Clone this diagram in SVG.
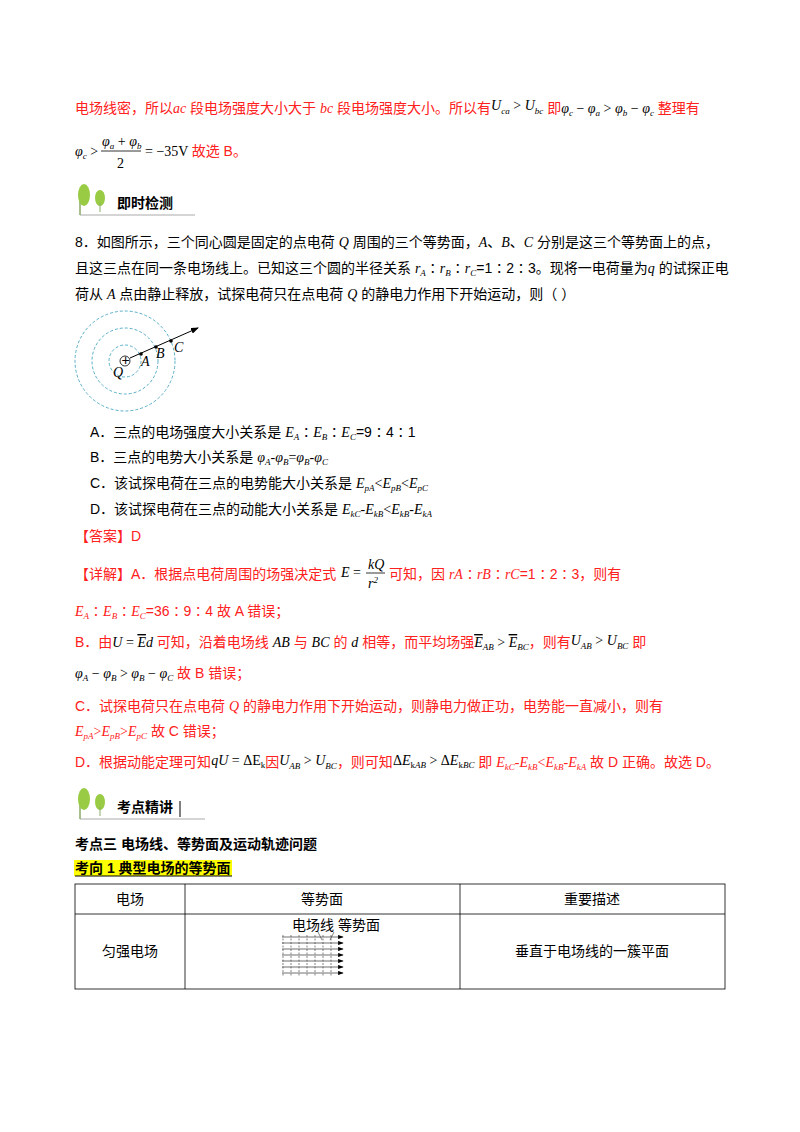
<svg xmlns="http://www.w3.org/2000/svg" width="800" height="1132" viewBox="0 0 800 1132">
<style>
text{font-family:"Liberation Sans","Noto Sans CJK SC",sans-serif;font-size:14px;fill:#000}
.r{fill:#ff2020}
.k{fill:#000}
.m{font-family:"Liberation Serif","Noto Sans CJK SC",serif;font-style:italic}
.n{font-style:normal}
.mn{font-family:"Liberation Serif",serif}
.s{font-size:9px}
.h{font-weight:bold;font-size:14px}
.ov{text-decoration:overline}
.c{fill:none;stroke:#5ab0c8;stroke-width:1;stroke-dasharray:3 2}
</style>
<defs>
<marker id="ar" markerWidth="8" markerHeight="6" refX="7" refY="3" orient="auto"><path d="M0,0L8,3L0,6z" fill="#000"/></marker>
</defs>
<rect width="800" height="1132" fill="#fff"/>
<text x="75" y="113" class="r">电场线密，所以<tspan class="m">ac</tspan> 段电场强度大小大于 <tspan class="m">bc</tspan> 段电场强度大小。所以有<tspan class="m k" dy="-3">U<tspan class="s" dy="4">ca</tspan><tspan dy="-4" class="n"> &gt; </tspan>U<tspan class="s" dy="4">bc</tspan></tspan><tspan dy="-1"> 即</tspan><tspan class="m k">φ<tspan class="s" dy="3">c</tspan><tspan dy="-3" class="n"> − </tspan>φ<tspan class="s" dy="3">a</tspan><tspan dy="-3" class="n"> &gt; </tspan>φ<tspan class="s" dy="3">b</tspan><tspan dy="-3" class="n"> − </tspan>φ<tspan class="s" dy="3">c</tspan></tspan><tspan dy="-3"> 整理有</tspan></text>
<text x="75" y="156" class="m">φ<tspan class="s" dy="3">c</tspan><tspan dy="-3" class="n"> &gt;</tspan></text>
<text x="102" y="146" class="m">φ<tspan class="s" dy="3">a</tspan><tspan dy="-3" class="n"> + </tspan>φ<tspan class="s" dy="3">b</tspan></text>
<line x1="101" y1="151" x2="141" y2="151" stroke="#000" stroke-width="0.8"/>
<text x="117" y="168" class="mn">2</text>
<text x="145" y="156" class="mn">= −35V <tspan class="r" font-family="Liberation Sans,Noto Sans CJK SC,sans-serif">故选 B。</tspan></text>
<g id="hdr1">
<path d="M80,215 L195,215" stroke="#aaa" stroke-width="1"/>
<path d="M80,198 L80,215" stroke="#8a6" stroke-width="1.5"/>
<ellipse cx="84" cy="195" rx="6" ry="11" fill="#9c4"/>
<ellipse cx="100" cy="198" rx="5" ry="8" fill="#9c4"/>
<line x1="100" y1="203" x2="100" y2="212" stroke="#8a6"/>
<text x="117" y="208" font-weight="bold" font-size="14">即时检测</text>
</g>
<text x="75" y="247">8．如图所示，三个同心圆是固定的点电荷 <tspan class="m">Q</tspan> 周围的三个等势面，<tspan class="m">A</tspan>、<tspan class="m">B</tspan>、<tspan class="m">C</tspan> 分别是这三个等势面上的点，</text>
<text x="75" y="273">且这三点在同一条电场线上。已知这三个圆的半径关系 <tspan class="m">r<tspan class="s" dy="3">A</tspan><tspan dy="-3" class="n">∶</tspan>r<tspan class="s" dy="3">B</tspan><tspan dy="-3" class="n">∶</tspan>r<tspan class="s" dy="3">C</tspan></tspan><tspan dy="-3">=1∶2∶3。现将一电荷量为</tspan><tspan class="m">q</tspan> 的试探正电</text>
<text x="75" y="299">荷从 <tspan class="m">A</tspan> 点由静止释放，试探电荷只在点电荷 <tspan class="m">Q</tspan> 的静电力作用下开始运动，则（        ）</text>
<g id="fig">
<circle cx="125" cy="361" r="16" class="c"/>
<circle cx="125" cy="361" r="33" class="c"/>
<circle cx="125" cy="361" r="50" class="c"/>
<circle cx="125" cy="361" r="5" fill="#fff" stroke="#000" stroke-width="0.8"/>
<text x="121.5" y="364.5" font-size="9">+</text>
<line x1="130" y1="358" x2="198" y2="328" stroke="#000" marker-end="url(#ar)"/>
<circle cx="141" cy="354" r="1.8"/><circle cx="156" cy="347" r="1.8"/><circle cx="171" cy="341" r="1.8"/>
<text x="113" y="377" class="m">Q</text>
<text x="141" y="366" class="m">A</text>
<text x="156" y="358" class="m">B</text>
<text x="174" y="352" class="m">C</text>
</g>
<text x="90" y="437">A．三点的电场强度大小关系是 <tspan class="m">E<tspan class="s" dy="3">A</tspan><tspan dy="-3" class="n">∶</tspan>E<tspan class="s" dy="3">B</tspan><tspan dy="-3" class="n">∶</tspan>E<tspan class="s" dy="3">C</tspan></tspan><tspan dy="-3">=9∶4∶1</tspan></text>
<text x="90" y="462">B．三点的电势大小关系是 <tspan class="m">φ<tspan class="s" dy="3">A</tspan><tspan dy="-3">-φ</tspan><tspan class="s" dy="3">B</tspan><tspan dy="-3" class="n">=</tspan>φ<tspan class="s" dy="3">B</tspan><tspan dy="-3">-φ</tspan><tspan class="s" dy="3">C</tspan></tspan></text>
<text x="90" y="488">C．该试探电荷在三点的电势能大小关系是 <tspan class="m">E<tspan class="s" dy="3">pA</tspan><tspan dy="-3" class="n">&lt;</tspan>E<tspan class="s" dy="3">pB</tspan><tspan dy="-3" class="n">&lt;</tspan>E<tspan class="s" dy="3">pC</tspan></tspan></text>
<text x="90" y="514">D．该试探电荷在三点的动能大小关系是 <tspan class="m">E<tspan class="s" dy="3">kC</tspan><tspan dy="-3">-E</tspan><tspan class="s" dy="3">kB</tspan><tspan dy="-3" class="n">&lt;</tspan>E<tspan class="s" dy="3">kB</tspan><tspan dy="-3">-E</tspan><tspan class="s" dy="3">kA</tspan></tspan></text>
<text x="75" y="541" class="r">【答案】D</text>
<text x="75" y="579" class="r">【详解】A．根据点电荷周围的场强决定式</text>
<text x="341" y="577" class="m">E<tspan class="n"> =</tspan></text>
<text x="368" y="569" class="m" font-size="12">kQ</text>
<line x1="366" y1="573" x2="385" y2="573" stroke="#000" stroke-width="0.8"/>
<text x="368" y="588" class="m" font-size="12">r<tspan class="s" dy="-5">2</tspan></text>
<text x="389" y="579" class="r">可知，因 <tspan class="m">rA</tspan>∶<tspan class="m">rB</tspan>∶<tspan class="m">rC</tspan>=1∶2∶3，则有</text>
<text x="75" y="616" class="r"><tspan class="m">E<tspan class="s" dy="3">A</tspan><tspan dy="-3" class="n">∶</tspan>E<tspan class="s" dy="3">B</tspan><tspan dy="-3" class="n">∶</tspan>E<tspan class="s" dy="3">C</tspan></tspan><tspan dy="-3">=36∶9∶4 故 A 错误；</tspan></text>
<text x="75" y="647" class="r">B．由<tspan class="m k">U<tspan class="n"> = </tspan><tspan class="ov">E</tspan>d</tspan> 可知，沿着电场线 <tspan class="m k">AB</tspan>  与 <tspan class="m k">BC</tspan> 的 <tspan class="m k">d</tspan> 相等，而平均场强<tspan class="m k"><tspan class="ov">E</tspan><tspan class="s" dy="3">AB</tspan><tspan dy="-3" class="n"> &gt; </tspan><tspan class="ov">E</tspan><tspan class="s" dy="3">BC</tspan></tspan><tspan dy="-3">，则有</tspan><tspan class="m k" dy="-2">U<tspan class="s" dy="4">AB</tspan><tspan dy="-4" class="n"> &gt; </tspan>U<tspan class="s" dy="4">BC</tspan></tspan><tspan dy="-2"> 即</tspan></text>
<text x="75" y="678" class="r"><tspan class="m k">φ<tspan class="s" dy="3">A</tspan><tspan dy="-3" class="n"> − </tspan>φ<tspan class="s" dy="3">B</tspan><tspan dy="-3" class="n"> &gt; </tspan>φ<tspan class="s" dy="3">B</tspan><tspan dy="-3" class="n"> − </tspan>φ<tspan class="s" dy="3">C</tspan></tspan><tspan dy="-3"> 故 B 错误；</tspan></text>
<text x="75" y="711" class="r">C．试探电荷只在点电荷 <tspan class="m">Q</tspan> 的静电力作用下开始运动，则静电力做正功，电势能一直减小，则有</text>
<text x="75" y="736" class="r"><tspan class="m">E<tspan class="s" dy="3">pA</tspan><tspan dy="-3" class="n">&gt;</tspan>E<tspan class="s" dy="3">pB</tspan><tspan dy="-3" class="n">&gt;</tspan>E<tspan class="s" dy="3">pC</tspan></tspan><tspan dy="-3"> 故 C 错误；</tspan></text>
<text x="75" y="767" class="r">D．根据动能定理可知<tspan class="m k" dy="-2">qU<tspan class="n"> = ΔE</tspan><tspan class="s n" dy="3">k</tspan></tspan><tspan dy="-1">因</tspan><tspan class="m k" dy="-2">U<tspan class="s" dy="4">AB</tspan><tspan dy="-4" class="n"> &gt; </tspan>U<tspan class="s" dy="4">BC</tspan></tspan><tspan dy="-2">，则可知</tspan><tspan class="m k" dy="-2"><tspan class="n">Δ</tspan>E<tspan class="s" dy="3"><tspan class="n">k</tspan>AB</tspan><tspan class="n" dy="-3"> &gt; Δ</tspan>E<tspan class="s" dy="3"><tspan class="n">k</tspan>BC</tspan></tspan><tspan dy="-1"> 即 </tspan><tspan class="m">E<tspan class="s" dy="3">kC</tspan><tspan dy="-3">-E</tspan><tspan class="s" dy="3">kB</tspan><tspan dy="-3" class="n">&lt;</tspan>E<tspan class="s" dy="3">kB</tspan><tspan dy="-3">-E</tspan><tspan class="s" dy="3">kA</tspan></tspan><tspan dy="-3"> 故 D 正确。故选 D。</tspan></text>
<g id="hdr2">
<path d="M80,819 L205,819" stroke="#aaa" stroke-width="1"/>
<path d="M80,802 L80,819" stroke="#8a6" stroke-width="1.5"/>
<ellipse cx="84" cy="799" rx="6" ry="11" fill="#9c4"/>
<ellipse cx="100" cy="802" rx="5" ry="8" fill="#9c4"/>
<line x1="100" y1="807" x2="100" y2="816" stroke="#8a6"/>
<text x="117" y="812" font-weight="bold" font-size="14">考点精讲</text>
<line x1="180" y1="801" x2="180" y2="817" stroke="#000"/>
</g>
<text x="75" y="849" class="h">考点三  电场线、等势面及运动轨迹问题</text>
<rect x="74" y="860" width="158" height="16" fill="#ffff00"/>
<text x="75" y="873" class="h">考向 1  典型电场的等势面</text>
<line x1="75" y1="876" x2="232" y2="876" stroke="#000"/>
<g id="table" fill="none" stroke="#000" stroke-width="0.8">
<rect x="75" y="884" width="650" height="105"/>
<line x1="75" y1="914" x2="725" y2="914"/>
<line x1="185" y1="884" x2="185" y2="989"/>
<line x1="460" y1="884" x2="460" y2="989"/>
</g>
<text x="130" y="904" text-anchor="middle">电场</text>
<text x="322" y="904" text-anchor="middle">等势面</text>
<text x="592" y="904" text-anchor="middle">重要描述</text>
<text x="130" y="956" text-anchor="middle">匀强电场</text>
<text x="592" y="956" text-anchor="middle">垂直于电场线的一簇平面</text>
<g id="ufig" stroke="#333" stroke-width="0.6">
<text x="292" y="930" font-size="10" stroke="none">电场线 等势面</text>
<g stroke-dasharray="2 1.5">
<line x1="283" y1="935" x2="283" y2="976"/><line x1="291" y1="935" x2="291" y2="976"/><line x1="299" y1="935" x2="299" y2="976"/><line x1="307" y1="935" x2="307" y2="976"/><line x1="315" y1="935" x2="315" y2="976"/><line x1="323" y1="935" x2="323" y2="976"/><line x1="331" y1="935" x2="331" y2="976"/>
</g>
<g marker-end="url(#ar)" stroke-width="0.7">
<line x1="282" y1="937" x2="343" y2="937"/><line x1="282" y1="943" x2="343" y2="943"/><line x1="282" y1="949" x2="343" y2="949"/><line x1="282" y1="955" x2="343" y2="955"/><line x1="282" y1="961" x2="343" y2="961"/><line x1="282" y1="967" x2="343" y2="967"/><line x1="282" y1="973" x2="343" y2="973"/>
</g>
<line x1="318" y1="932" x2="322" y2="940"/><line x1="334" y1="932" x2="330" y2="940"/>
</g>
</svg>
